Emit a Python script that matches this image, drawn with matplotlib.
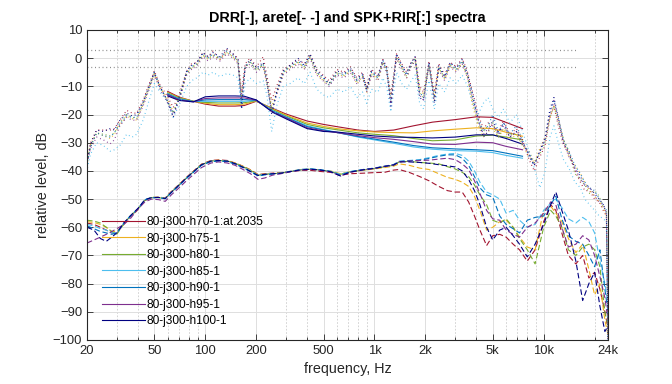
import numpy as np
import matplotlib
matplotlib.use('Agg')
import matplotlib.pyplot as plt
from matplotlib.ticker import FixedLocator, NullFormatter

plt.rcParams['font.family'] = ['Liberation Sans', 'DejaVu Sans']

# legend labels and colours (h70 ... h100)
labels = ['80-j300-h70-1:at.2035', '80-j300-h75-1', '80-j300-h80-1', '80-j300-h85-1',
          '80-j300-h90-1', '80-j300-h95-1', '80-j300-h100-1']
colors = ['#A2142F', '#EDB120', '#77AC30', '#4DBEEE', '#0072BD', '#7E2F8E', '#000080']

# DRR curves (solid)
f_drr = [60, 70, 85, 100, 120, 150, 170, 200, 250, 300, 400, 500, 600, 800, 1000,
         1300, 1700, 2200, 3000, 4000, 5000, 6000, 7500]
drr_h70 = [-11.8, -13.8, -15.3, -16.3, -17, -17, -16.8, -15.3, -17.8, -19.8, -22.3, -23.5, -24.3,
           -25.5, -26, -25.5, -24, -22.7, -21.8, -20.8, -21, -22.8, -25]
drr_h75 = [-12.2, -14, -15.3, -16, -16.5, -16.5, -16.3, -15.2, -18, -20.2, -23, -24.2, -25,
           -25.8, -26.2, -26.4, -26.5, -25.8, -25.2, -24.7, -25, -26.3, -27.7]
drr_h80 = [-12.4, -14.2, -15.3, -15.7, -15.9, -15.9, -15.8, -15.1, -18.3, -20.5, -23.5, -24.7, -25.4,
           -26.5, -27, -27.5, -28.5, -29.3, -29, -27.6, -27.3, -28, -29]
drr_h85 = [-12.6, -14.4, -15.4, -15.3, -15.3, -15.3, -15.3, -15, -18.6, -20.8, -24, -25.3, -26.3,
           -28, -29, -30.2, -31.5, -32.3, -32.8, -33, -33.5, -34.5, -35.5]
drr_h90 = [-12.8, -14.6, -15.4, -14.8, -14.7, -14.7, -14.7, -14.9, -18.8, -21, -24.3, -25.5, -26.4,
           -27.8, -28.7, -29.8, -31, -31.8, -32.2, -32.5, -32.8, -33.7, -34.8]
drr_h95 = [-13, -14.8, -15.5, -14.3, -14.1, -14.1, -14.1, -14.9, -19, -21.2, -24.7, -25.8, -26.4,
           -27.5, -28.2, -28.8, -29.6, -30.5, -30.6, -29.8, -30, -31.3, -32.5]
drr_h100 = [-13.4, -15, -15.5, -13.7, -13.4, -13.4, -13.5, -14.8, -19.2, -21.5, -25, -26, -26.2,
            -27, -27.6, -28, -28.1, -28.3, -28, -27.2, -27.2, -28.5, -30.5]

# arete curves (dashed)
f_ar = [20, 22, 24, 26, 28, 30, 33, 36, 40, 44, 48, 53, 58, 63, 70, 79, 87, 95, 108, 120,
        135, 150, 165, 185, 205, 225, 250, 280, 320, 370, 420, 480, 550, 630, 720, 860, 1000,
        1150, 1300, 1400, 1600, 1850, 2100, 2400, 2700, 3000, 3300, 3600, 3900, 4200, 4600,
        5000, 5500, 6000, 6600, 7200, 8000, 8900, 10000, 11000, 11800, 12800, 14000, 15500,
        17000, 18500, 20000, 21500, 23000, 24000]
ar_h70 = [-58.5, -59, -60, -61, -62, -62, -59, -56.3, -53.8, -50.5, -49.5, -49.3, -49.6, -47.3,
          -44.8, -41.8, -39.6, -37.6, -36.3, -36.1, -36.3, -37.2, -38.2, -39.6, -41.3, -41, -40.8,
          -40.6, -40.2, -39.8, -39.8, -40.2, -40.5, -41.5, -41, -40.8, -40.6, -40.5, -39.7, -39.5,
          -40.5, -42, -43.5, -45.5, -47, -47.5, -47.5, -51, -56, -61, -66.5, -63, -62.5, -63.5,
          -66, -68, -72, -68, -58, -52, -54, -62, -70, -73, -70, -78, -76, -82, -90, -96]
ar_h75 = [-58, -58.3, -59, -60, -61.5, -61.5, -58.7, -56.1, -53.6, -50.3, -49.4, -49.3, -49.7,
          -47.4, -44.9, -41.9, -39.7, -37.7, -36.4, -36.2, -36.4, -37.2, -38.2, -39.7, -41.4,
          -41.1, -40.9, -40.7, -40.1, -39.5, -39.4, -39.8, -40, -41, -40.3, -39.8, -39.3, -38.8,
          -38.3, -37.5, -38, -39, -39.5, -41, -42.3, -43, -44, -45.5, -49, -54, -61, -60, -58,
          -57.5, -60, -63.5, -67, -68, -54, -52.5, -55, -58, -64, -69, -66, -75, -84, -80, -93,
          -98]
ar_h80 = [-57.5, -57.8, -58.5, -60, -61.5, -62.5, -58.8, -56, -53.5, -50.4, -49.5, -49.5,
          -49.8, -47.5, -45, -42, -39.8, -37.8, -36.5, -36.3, -36.5, -37.3, -38.3, -39.8, -41.5,
          -41.2, -41, -40.8, -40.2, -39.6, -39.4, -39.7, -40.2, -41.2, -40.3, -39.7, -39.2,
          -38.5, -38, -36.8, -36.6, -37, -37.2, -37.5, -38.5, -39.3, -40.5, -42, -45, -48.5, -52,
          -57.5, -58.5, -57, -60, -64, -68, -73, -60, -54, -56, -60, -68, -70, -67, -66, -68, -74,
          -90, -95]
ar_h85 = [-59, -59.5, -60.5, -61, -62, -62, -58.5, -56, -53.4, -50.2, -49.4, -49.4, -49.8,
          -47.6, -45.1, -42.1, -39.9, -37.9, -36.6, -36.4, -36.6, -37.5, -38.5, -40, -41.6,
          -41.3, -41, -40.8, -40.1, -39.5, -39.3, -39.6, -40.1, -41.3, -40.2, -39.5, -39,
          -38.4, -37.8, -36.7, -36.3, -36, -35.3, -34.5, -34, -33.8, -34.5, -36.5, -40, -44,
          -47.5, -48.5, -50, -55, -54, -57.5, -60, -59, -54, -51.5, -50, -53, -57, -58.5, -56.5,
          -58, -62, -72, -80, -87]
ar_h90 = [-59.5, -60.5, -61.5, -62, -62.5, -62, -58.6, -56.1, -53.5, -50.3, -49.5, -49.5,
          -49.9, -47.7, -45.2, -42.2, -40, -38, -36.7, -36.5, -36.7, -37.6, -38.7, -40.3, -41.8,
          -41.4, -41.1, -40.9, -40.2, -39.5, -39.3, -39.6, -40.2, -41.5, -40.3, -39.5, -39,
          -38.3, -37.7, -36.6, -36.4, -36.2, -35.6, -34.8, -34.3, -34.3, -35.5, -38, -42, -46,
          -48.5, -49.3, -56, -59, -60.5, -62, -57.5, -56.5, -56, -52, -49, -57, -63, -65, -66,
          -70, -74, -68, -82, -90]
ar_h95 = [-65.6, -64.5, -63.5, -62.5, -61.5, -60.5, -59, -57, -53.5, -51, -50, -50.2, -50.8,
          -48.5, -46, -43, -40.8, -38.8, -37.2, -36.8, -37.2, -38, -39.3, -41, -43, -42.5,
          -41.5, -41, -40.3, -39.7, -39.5, -39.8, -40.3, -41.8, -40.5, -39.6, -39.1, -38.4,
          -37.9, -36.8, -36.5, -36.3, -36.2, -35.8, -35.5, -36, -37.5, -39.5, -43.5, -48, -54,
          -57, -57.5, -61, -62.5, -63.5, -60, -58.5, -55, -51, -52, -60, -67, -66, -63, -64.5,
          -70, -77.5, -85, -93]
ar_h100 = [-60, -61, -64, -65, -63.5, -62, -58.5, -56, -53.3, -50.2, -49.5, -49.4, -49.8,
           -47.6, -45, -42, -39.8, -37.8, -36.5, -36.3, -36.5, -37.4, -38.5, -40.2, -41.6,
           -41.2, -41, -40.8, -40.2, -39.6, -39.4, -39.7, -40.3, -41.8, -40.4, -39.6, -39.1,
           -38.4, -37.9, -36.8, -36.8, -37, -37.3, -37.8, -38.2, -38.6, -40, -43, -47, -52, -60,
           -64.5, -61, -60, -63, -66, -70.5, -66, -59, -52, -47.5, -54, -61, -72, -86, -80, -76,
           -88, -97, -95]

# SPK+RIR curves (dotted)
f_spk = [20, 21, 22.8, 25, 27.4, 29, 31.3, 34.3, 37, 39.3, 42.9, 46, 50, 54, 59, 64.7, 70.9,
         77.7, 83, 89, 97, 104, 111, 122, 134, 146, 156, 164, 172, 184, 201, 220, 231, 247,
         264, 289, 317, 353, 385, 416, 456, 497, 540, 600, 660, 720, 787, 850, 900, 960, 1050,
         1120, 1180, 1250, 1350, 1450, 1550, 1650, 1740, 1850, 1950, 2100, 2260, 2400, 2600,
         2800, 3050, 3300, 3550, 3800, 4100, 4400, 4700, 5000, 5400, 5800, 6300, 6900, 7500,
         8200, 8800, 9500, 10200, 10900, 11500, 12200, 13100, 14100, 15300, 16500, 17500,
         18700, 20000, 21300, 22500, 23500, 24000]
spk_h70 = [-36.7, -30, -25.5, -25.5, -25.5, -25, -22, -18.5, -19.5, -19.5,
           -15, -10, -4.5, -9.5, -13, -17.5, -12, -4.5, -2, -1.5,
           2, 0.5, 2.5, -0.5, 3, 1.5, 0, -12, -2, 0,
           -3, 0.5, -6, -15, -10, -4, -2.5, -0.5, -2, 1.5,
           -4, -6, -8, -4, -5, -3, -7, -5, -10, -4,
           -6, -0.5, -3, -13, 1.5, -2, -5, -1.5, 0.5, -10,
           -12, -1, -12, -2, -6, -1.5, -3, 0, -5, -12,
           -20, -25, -23, -24, -26, -22, -27, -25, -29, -36,
           -40, -35, -31, -21, -17, -24, -31, -33, -40, -44,
           -47, -47, -50, -51, -54, -56, -100]
spk_h75 = [-36, -30.5, -26.5, -27.5, -28.5, -27, -23.5, -20.5, -21.5, -22,
           -16.5, -11.5, -5.5, -10.5, -14, -19, -13.5, -5.5, -3.5, -2,
           1, -0.5, 1, -0.5, 2, 0.5, -1.5, -14, -3.5, -1.5,
           -4, -2.5, -8.5, -17, -12.5, -5.5, -3.5, -1.5, -3.5, 0.5,
           -5.5, -8, -9.5, -5.5, -6.5, -4.5, -9, -6.5, -12, -5.5,
           -7.5, -1.5, -4.5, -14, 0, -3.5, -7, -2.5, -0.5, -11,
           -13, -2.5, -13, -3.5, -7.5, -2.5, -4.5, -1.5, -7, -17,
           -24, -28, -26, -25, -28, -25, -29, -27, -31, -35,
           -37, -32, -28, -21, -17, -21, -29, -35, -38, -41,
           -44, -47, -49, -51, -53, -56, -100]
spk_h80 = [-37.5, -31.5, -26.5, -27, -27.5, -26.5, -23, -20, -21, -21.5,
           -16, -11, -5.5, -10, -14.5, -19.5, -13, -5.5, -3, -2.5,
           1, 0, 1, 0, 2, 0.5, -1, -15, -3, -1,
           -4.5, -2, -8, -18, -12, -5, -3, -1.5, -3, 0.5,
           -5, -7.5, -9, -5, -6, -4.5, -8, -6.5, -11, -5.5,
           -7, -1.5, -4, -16, 0.5, -3.5, -6.5, -2.5, -0.5, -12.5,
           -14, -2.5, -15, -3.5, -7, -2.5, -4, -1.5, -6.5, -15,
           -23, -26, -24, -23, -28, -25, -27, -27, -31, -33,
           -37, -34, -30, -21, -17, -23, -29, -33, -41, -43,
           -45, -48, -47, -49, -53, -54, -100]
spk_h85 = [-39.7, -34, -30, -31, -33, -32.5, -31, -27, -28, -27,
           -22, -16, -9, -12, -15, -21, -16, -10, -8, -7,
           -5, -6, -5, -6.5, -5.5, -6, -7, -18, -9, -7,
           -9, -8, -13, -26, -17, -10, -9, -7, -9, -5,
           -11, -13, -14, -11, -12, -10, -14, -12, -16, -11,
           -12, -7, -10, -19, -5, -9, -11, -8, -6, -16,
           -18, -8, -18, -9, -12, -7, -9, -6, -10, -16,
           -20, -16, -14, -18, -21, -18, -23, -20, -26, -33,
           -39, -46, -40, -28, -24, -30, -36, -39, -44, -46,
           -50, -52, -54, -56, -57, -58, -100]
spk_h90 = [-37, -31.5, -26.5, -27.5, -28, -26.5, -23.5, -20.5, -21, -21,
           -16, -11.5, -5, -10.5, -14.5, -19.5, -13.5, -5, -3, -2,
           1.5, 0, 1.5, 0, 2.5, 1, -1, -16, -3, -1.5,
           -4, -2, -8.5, -19, -12.5, -5, -3, -1, -3, 1,
           -5, -7, -9.5, -5.5, -6, -4, -8, -6, -11.5, -5,
           -7, -1, -4, -15, 1, -3, -6, -2, 0, -12,
           -14, -2, -14, -3, -7, -2, -4, -1, -6, -13,
           -21, -26, -24, -20, -26, -23, -27, -24, -29, -35,
           -38, -33, -29, -19, -15, -21, -29, -33, -38, -41,
           -44, -46, -47, -50, -52, -54, -100]
spk_h95 = [-37.5, -32, -28, -29, -30.4, -29, -24, -21, -22, -22,
           -17, -12, -6, -11, -15, -20, -14, -6, -4, -3,
           0.5, -1, 0.5, -1, 1.5, 0, -2, -14, -4, -2,
           -5, -3, -9, -19, -13, -6, -4, -2, -4, 0,
           -6, -8, -10, -6, -7, -5, -9, -7, -12, -6,
           -8, -2, -5, -16, 0, -4, -7, -3, -1, -13,
           -15, -3, -15, -4, -8, -3, -5, -2, -7, -15,
           -22, -27, -25, -24, -27, -24, -28, -26, -30, -34,
           -38, -33, -29, -20, -15, -22, -30, -35, -39, -43,
           -45, -46, -49, -51, -52, -55, -100]
spk_h100 = [-37, -30.5, -25.5, -26, -25, -25.5, -22, -19.5, -20.5, -20,
            -15.5, -10.5, -5, -10, -14.5, -21, -13, -4.5, -2.5, -1.5,
            2, 0.5, 2, 0.5, 3.5, 1.5, -0.5, -18, -3, -0.5,
            -3.5, -1.5, -7.5, -20, -12, -4.5, -2.5, 0, -2.5, 1.5,
            -4.5, -6.5, -9, -4.5, -5.5, -3.5, -7.5, -5.5, -11, -4.5,
            -6.5, -0.5, -3.5, -17, 1.5, -2.5, -5.5, -1.5, 0.5, -14,
            -15, -1.5, -16, -2.5, -6.5, -1.5, -3.5, -0.5, -5.5, -13,
            -22, -28, -26, -22, -27, -23, -28, -26, -30, -34,
            -38, -33, -28, -18, -14, -21, -30, -34, -39, -42,
            -45, -46, -48, -50, -52, -55, -100]

# +/-3 dB reference lines
f_ref = [20, 16000]
ref_levels = [3, -3]

drr = [drr_h70, drr_h75, drr_h80, drr_h85, drr_h90, drr_h95, drr_h100]
arete = [ar_h70, ar_h75, ar_h80, ar_h85, ar_h90, ar_h95, ar_h100]
spk = [spk_h70, spk_h75, spk_h80, spk_h85, spk_h90, spk_h95, spk_h100]

fig = plt.figure(figsize=(6.72, 3.84), dpi=100)
ax = fig.add_axes([87 / 672, 1 - 340 / 384, 521 / 672, 310 / 384])

handles = []
for vals, c, lab in zip(drr, colors, labels):
    h, = ax.plot(f_drr, vals, color=c, lw=0.8, label=lab)
    handles.append(h)
for vals, c in zip(arete, colors):
    ax.plot(f_ar, vals, color=c, lw=0.8, linestyle=(0, (5, 2.5)))
for i, (vals, c) in enumerate(zip(spk, colors)):
    # stagger the dot phase so the colours interleave like in the original
    ax.plot(f_spk, vals, color=c, lw=0.85, linestyle=(i * 0.45, (0.7, 2.6)))
for lv in ref_levels:
    ax.plot(f_ref, [lv, lv], color='#8c8c8c', lw=0.9, linestyle=(0, (0.8, 2.2)))

ax.set_xscale('log')
ax.set_xlim(20, 24000)
ax.set_ylim(-100, 10)
xt = [20, 50, 100, 200, 500, 1000, 2000, 5000, 10000, 24000]
xtl = ['20', '50', '100', '200', '500', '1k', '2k', '5k', '10k', '24k']
ax.set_xticks(xt)
ax.set_xticklabels(xtl)
minors = [30, 40, 60, 70, 80, 90, 300, 400, 600, 700, 800, 900, 3000, 4000, 6000, 7000,
          8000, 9000, 20000]
ax.xaxis.set_minor_locator(FixedLocator(minors))
ax.xaxis.set_minor_formatter(NullFormatter())
ax.set_yticks(np.arange(-100, 11, 10))

ax.grid(True, which='major', color='#dedede', lw=0.7, linestyle='-')
ax.grid(True, which='minor', axis='x', color='#cccccc', lw=0.6, linestyle=(0, (2, 2)))
ax.set_axisbelow(True)

ax.tick_params(which='both', direction='in', top=True, right=True, colors='#262626',
               labelsize=9.4, width=0.6)
ax.tick_params(which='major', length=4)
ax.tick_params(which='minor', length=2.5)
for s in ax.spines.values():
    s.set_color('#262626')
    s.set_linewidth(0.8)

ax.set_xlabel('frequency, Hz', fontsize=10.4, color='#262626', labelpad=4)
ax.set_ylabel('relative level, dB', fontsize=10.4, color='#262626', labelpad=2)
ax.set_title('DRR[-], arete[- -] and SPK+RIR[:] spectra', fontsize=10.4, fontweight='bold',
             color='#000000', pad=6)

ax.legend(handles=handles, loc='upper left', bbox_to_anchor=(0.029, 0.40), frameon=False,
          fontsize=8.6, handlelength=3.6, handletextpad=0.15, labelspacing=0.38,
          borderpad=0, borderaxespad=0)

fig.savefig('out.png', dpi=100)
